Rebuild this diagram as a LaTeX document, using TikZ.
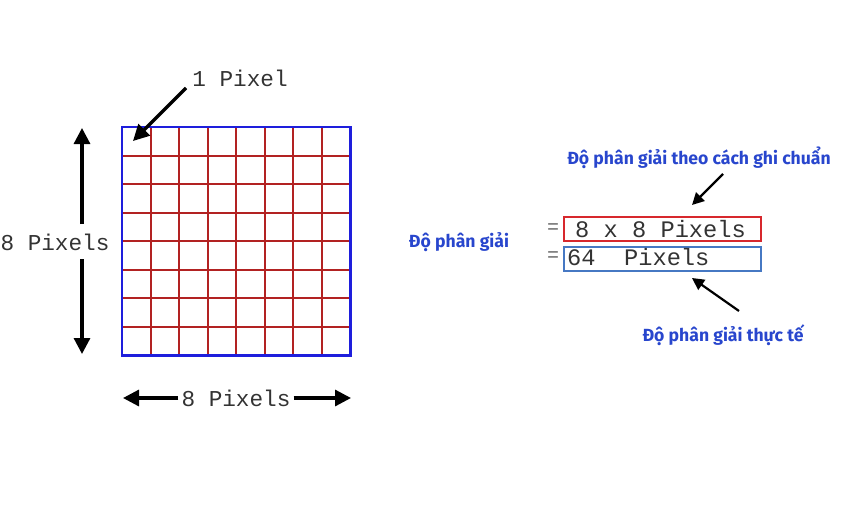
\documentclass[tikz,border=0pt]{standalone}
\usepackage{fontspec}
\setmonofont{Liberation Mono}
\newfontfamily\vnfont{Fira Sans}
\usetikzlibrary{arrows.meta}
\definecolor{gridred}{RGB}{178,34,34}
\definecolor{gridblue}{RGB}{30,30,220}
\definecolor{vnblue}{RGB}{40,70,205}
\definecolor{boxred}{RGB}{215,40,45}
\definecolor{boxblue}{RGB}{70,120,195}
\tikzset{
  mono/.style={font=\ttfamily\fontsize{22.7}{23}\selectfont, inner sep=0pt, text=black!80},
  vn/.style={font=\vnfont\bfseries\fontsize{17.6}{18}\selectfont, text=vnblue, inner sep=0pt},
  bigarrow/.style={line width=3.2pt, -{Triangle[length=16pt,width=16pt]}},
  smallarrow/.style={line width=2.2pt, -{Triangle[length=12pt,width=12pt]}},
  eqsign/.style={font=\ttfamily\fontsize{20}{20}\selectfont, text=black!60, inner sep=0pt},
}
\begin{document}
\begin{tikzpicture}[x=1pt,y=-1pt]
\useasboundingbox (0,0) rectangle (850,524);
% grid
\node[minimum size=228pt, inner sep=0pt, anchor=north west] (grid) at (122,127) {};
\foreach \i in {1,...,7}{
  \draw[gridred, line width=2pt] (122+28.5*\i,127) -- (122+28.5*\i,355);
  \draw[gridred, line width=2pt] (122,127+28.5*\i) -- (350,127+28.5*\i);
}
\draw[gridblue, line width=2.5pt] (grid.north west) rectangle (grid.south east);
% 1 Pixel
\node[mono] (onepix) at (240,78) {1 Pixel};
\coordinate (cell) at (133,141);
\draw[bigarrow] (186,88) -- (cell);
% vertical dimension
\node[mono] (vlab) at (55,242) {8 Pixels};
\coordinate (vtop) at (82,128);
\coordinate (vbot) at (82,354);
\draw[bigarrow] (82,224) -- (vtop);
\draw[bigarrow] (82,259) -- (vbot);
% horizontal dimension
\node[mono] (hlab) at (236,398) {8 Pixels};
\coordinate (hleft) at (123,398);
\coordinate (hright) at (351,398);
\draw[bigarrow] (hlab.west) ++(-3,0) -- (hleft);
\draw[bigarrow] (hlab.east) ++(3,0) -- (hright);
% right side
\node[vn] (dpg) at (459,242) {Độ phân giải};
\node[eqsign] (eq1) at (553,229) {=};
\node[eqsign] (eq2) at (553,257) {=};
\node[draw=boxred, line width=2pt, minimum width=197pt, minimum height=24pt, anchor=north west, inner sep=0pt] (rbox) at (563,216) {};
\node[draw=boxblue, line width=2pt, minimum width=197pt, minimum height=24pt, anchor=north west, inner sep=0pt] (bbox) at (563,246) {};
\node[mono, font=\ttfamily\fontsize{23.7}{24}\selectfont, anchor=west] (t1) at (575,229) {8 x 8 Pixels};
\node[mono, font=\ttfamily\fontsize{23.7}{24}\selectfont, anchor=west] (t2) at (567,257) {64~~Pixels};
\node[vn] (std) at (699,158) {Độ phân giải theo cách ghi chuẩn};
\node[vn] (real) at (723,335) {Độ phân giải thực tế};
\coordinate (rtip) at (692,205);
\coordinate (btip) at (692,278);
\draw[smallarrow] (723,174) -- (rtip);
\draw[smallarrow] (739,311) -- (btip);
\end{tikzpicture}
\end{document}
